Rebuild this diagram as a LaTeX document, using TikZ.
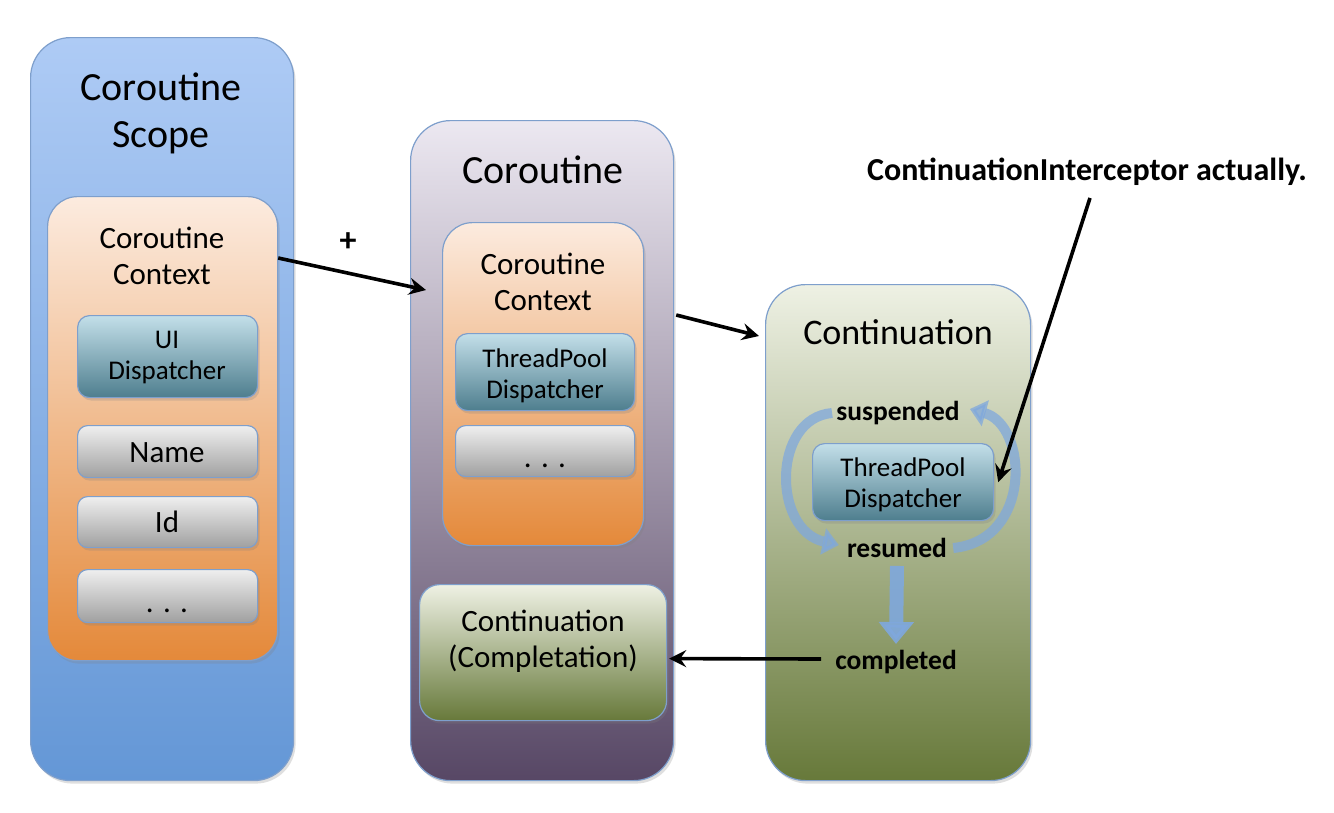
\documentclass[tikz,border=0pt]{standalone}
\usepackage{fontspec}
\setmainfont{Carlito}
\usetikzlibrary{arrows.meta,shadows,calc}
\definecolor{bordc}{HTML}{7E9FCC}
\definecolor{bluetop}{HTML}{AECBF5}
\definecolor{bluebot}{HTML}{6497D6}
\definecolor{ortop}{HTML}{FCEBDF}
\definecolor{orbot}{HTML}{E4893A}
\definecolor{tealtop}{HTML}{C3DFE9}
\definecolor{tealbot}{HTML}{4E7E8E}
\definecolor{graytop}{HTML}{EFEFEF}
\definecolor{graybot}{HTML}{A0A0A0}
\definecolor{purtop}{HTML}{ECE8F1}
\definecolor{purbot}{HTML}{574765}
\definecolor{grtop}{HTML}{EEF1E4}
\definecolor{grbot}{HTML}{67793A}
\definecolor{flow}{HTML}{7FA8DD}
\tikzset{
  box/.style={draw=bordc, line width=1.2pt, anchor=north west, inner sep=0pt,
    drop shadow={opacity=0.25, shadow xshift=2pt, shadow yshift=-3pt}},
  bluebox/.style={box, top color=bluetop, bottom color=bluebot, rounded corners=40pt},
  orbox/.style={box, top color=ortop, bottom color=orbot, rounded corners=30pt},
  tealbox/.style={box, top color=tealtop, bottom color=tealbot, rounded corners=12pt},
  graybox/.style={box, top color=graytop, bottom color=graybot, rounded corners=10pt},
  purbox/.style={box, top color=purtop, bottom color=purbot, rounded corners=40pt},
  grbox/.style={box, top color=grtop, bottom color=grbot, rounded corners=40pt},
  grsmall/.style={box, top color=grtop, bottom color=grbot, rounded corners=20pt},
  txt/.style={inner sep=0pt, align=center, text=black},
  bigt/.style={txt, font=\fontsize{40}{47}\selectfont},
  midt/.style={txt, font=\fontsize{31}{36}\selectfont},
  smt/.style={txt, font=\fontsize{27}{31}\selectfont},
  boldt/.style={txt, font=\bfseries\fontsize{27.5}{31}\selectfont},
  conn/.style={line width=3.6pt, -{Stealth[length=17pt,width=17pt,inset=6pt]}},
  flowarrow/.style={draw=flow, opacity=0.75, line width=10pt, -{Triangle[length=16pt,width=26pt]}},
}
\begin{document}
\begin{tikzpicture}[x=1pt,y=-1pt]
\useasboundingbox (0,0) rectangle (1334,812);
\fill[white] (0,0) rectangle (1334,812);
% Scope column
\node[bluebox, minimum width=263pt, minimum height=743pt] (scope) at (30,37) {};
\node[bigt] (scopet) at (161,113) {Coroutine\\Scope};
\node[orbox, minimum width=230pt, minimum height=464pt] (sctx) at (47,196) {};
\node[midt] (sctxt) at (162,256) {Coroutine\\Context};
\node[tealbox, minimum width=180pt, minimum height=82pt] (uid) at (77,315) {};
\node[smt] (uidt) at (167,358) {UI\\Dispatcher};
\node[graybox, minimum width=180pt, minimum height=52pt] (name) at (77,425) {};
\node[midt] (namet) at (167,453) {Name};
\node[graybox, minimum width=180pt, minimum height=51pt] (id) at (77,496) {};
\node[midt] (idt) at (167,522) {Id};
\node[graybox, minimum width=180pt, minimum height=53pt] (etc1) at (77,569) {};
\node[midt, anchor=base] (etc1t) at (167,612) {. . .};
% Coroutine column
\node[purbox, minimum width=263pt, minimum height=660pt] (co) at (410,120) {};
\node[bigt] (cot) at (543,170) {Coroutine};
\node[orbox, minimum width=201pt, minimum height=323pt] (cctx) at (442,222) {};
\node[midt] (cctxt) at (543,282) {Coroutine\\Context};
\node[tealbox, minimum width=179pt, minimum height=77pt] (tpd) at (455,333) {};
\node[smt] (tpdt) at (545,376) {ThreadPool\\Dispatcher};
\node[graybox, minimum width=179pt, minimum height=51pt] (etc2) at (455,425) {};
\node[midt, anchor=base] (etc2t) at (545,467) {. . .};
\node[grsmall, minimum width=247pt, minimum height=136pt] (comp) at (419,584) {};
\node[midt] (compt) at (543,641) {Continuation\\(Completation)};
% Continuation column
\node[grbox, minimum width=265pt, minimum height=496pt] (cont) at (765,284) {};
\node[txt, font=\fontsize{36}{42}\selectfont] (contt) at (898,332) {Continuation};
\node[tealbox, minimum width=181pt, minimum height=77pt] (tpd2) at (812,443) {};
\node[smt] (tpd2t) at (903,485) {ThreadPool\\Dispatcher};
\node[boldt] (susp) at (898,413) {suspended};
\node[boldt] (resu) at (897,548) {resumed};
\node[boldt] (compl) at (896,662) {completed};
% state flow arrows
\draw[flowarrow] ($(susp.west)+(-4,0)$) .. controls (772,418) and (772,530) .. ($(resu.west)+(-8,-3)$);
\draw[flowarrow] ($(resu.east)+(6,0)$) .. controls (1033,540) and (1028,425) .. ($(susp.east)+(10,-4)$);
\draw[draw=flow, opacity=0.9, line width=14pt, -{Triangle[length=22pt,width=34pt]}] ($(resu.south)+(0,8)$) -- ($(compl.north)+(0,-6)$);
% labels
\node[txt, font=\bfseries\fontsize{34}{38}\selectfont] (plus) at (348,242) {+};
\node[txt, font=\bfseries\fontsize{32}{36}\selectfont] (ci) at (1087,172) {ContinuationInterceptor actually.};
% connectors
\draw[conn] ($(sctx.north east)+(0,62)$) -- ($(co.west |- 0,290)+(16,0)$);
\draw[conn] ($(cctx.north east)+(32,93)$) -- ($(cont.west |- 0,336)+(-6,0)$);
\draw[conn] ($(compl.west)+(-14,-3)$) -- ($(comp.east)+(2,6)$);
\draw[conn] ($(ci.south)+(3,12)$) -- ($(tpd2.east)+(4,0)$);
\end{tikzpicture}
\end{document}
